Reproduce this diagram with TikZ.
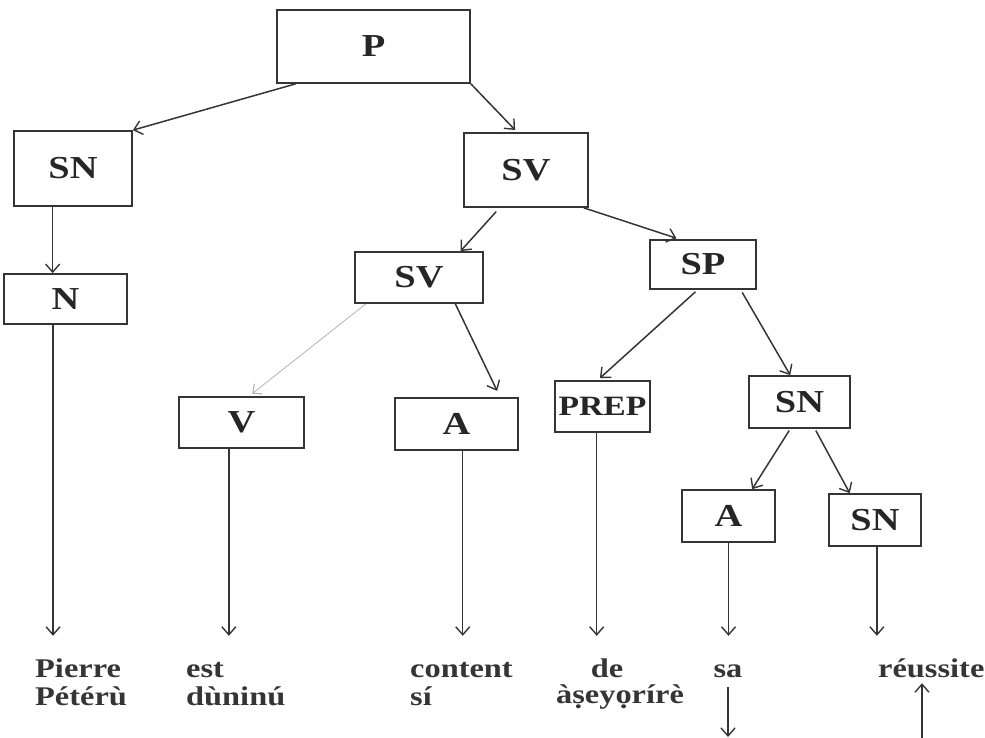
\documentclass[tikz,border=0pt]{standalone}
\usepackage{fontspec}
\setmainfont{Liberation Serif}[FakeStretch=1.2]
\usetikzlibrary{arrows.meta,calc}
\definecolor{ink}{HTML}{353535}
\definecolor{labelink}{HTML}{262626}
\begin{document}
\begin{tikzpicture}[x=1pt,y=-1pt,
  tbox/.style={draw=ink,line width=1.7pt,inner sep=0pt,text=labelink,
    font=\bfseries\fontsize{32}{32}\selectfont},
  link/.style={draw=ink,line width=1.5pt,
    -{Straight Barb[length=8pt,width=14pt,line width=1.4pt]}},
  faint/.style={draw=black!30,line width=0.8pt,
    -{Straight Barb[length=7pt,width=13pt,line width=1.1pt]}},
  word/.style={inner sep=0pt,text=ink,text height=18pt,text depth=6pt,
    font=\bfseries\fontsize{27}{28}\selectfont}]
\useasboundingbox (0,0) rectangle (985,738);

% boxes
\node[tbox,minimum width=193pt,minimum height=73pt] (P)   at (373.5,46.5) {P};
\node[tbox,minimum width=118pt,minimum height=75pt] (SNa) at (73,168.5)   {SN};
\node[tbox,minimum width=123pt,minimum height=50pt] (N)   at (65.5,299)   {N};
\node[tbox,minimum width=124pt,minimum height=74pt] (SVa) at (526,170)    {SV};
\node[tbox,minimum width=128pt,minimum height=51pt] (SVb) at (419,277.5)  {SV};
\node[tbox,minimum width=106pt,minimum height=49pt] (SP)  at (703,264.5)  {SP};
\node[tbox,minimum width=101pt,minimum height=52pt] (SNb) at (799.5,402)  {SN};
\node[tbox,minimum width=125pt,minimum height=51pt] (V)   at (241.5,422.5){V};
\node[tbox,minimum width=123pt,minimum height=52pt] (A1)  at (456.5,424)  {A};
\node[tbox,minimum width=95pt,minimum height=51pt,font=\bfseries\fontsize{28}{28}\selectfont] (PREP) at (602.5,406.5) {PREP};
\node[tbox,minimum width=93pt,minimum height=52pt]  (A2)  at (728.5,516)  {A};
\node[tbox,minimum width=92pt,minimum height=52pt]  (SNc) at (875,520)    {SN};

% words
\node[word,anchor=base west] (w1a) at (35,677)  {Pierre};
\node[word,anchor=base west] (w1b) at (35,705)  {Pétérù};
\node[word,anchor=base west] (w2a) at (186,677) {est};
\node[word,anchor=base west] (w2b) at (186,705) {dùninú};
\node[word,anchor=base west] (w3a) at (410,677) {content};
\node[word,anchor=base west] (w3b) at (410,705) {sí};
\node[word,anchor=base]      (w4a) at (607,677) {de};
\node[word,anchor=base]      (w4b) at (620,703) {àṣeyọrírè};
\node[word,anchor=base]      (w5)  at (728,677) {sa};
\node[word,anchor=base west] (w6)  at (878,677) {réussite};

% tree connectors
\draw[link] ($(P.south west)!0.1!(P.south east)$) -- (SNa.north east);
\draw[link,shorten >=3pt] (P.south east) -- ($(SVa.north west)!0.43!(SVa.north east)$);
\draw[link] ($(SNa.south west)!0.33!(SNa.south east)$) coordinate (c1) -- (c1 |- N.north);
\draw[link,shorten <=5pt] ($(SVa.south west)!0.29!(SVa.south east)$) -- ($(SVb.north west)!0.82!(SVb.north east)$);
\draw[link,shorten >=3pt] ($(SVa.south west)!0.96!(SVa.south east)$) -- ($(SP.north west)!0.28!(SP.north east)$);
\draw[faint,shorten >=4pt] ($(SVb.south west)!0.09!(SVb.south east)$) -- ($(V.north west)!0.56!(V.north east)$);
\draw[link,shorten >=7pt] ($(SVb.south west)!0.78!(SVb.south east)$) -- ($(A1.north west)!0.85!(A1.north east)$);
\draw[link,shorten <=3pt,shorten >=3pt] ($(SP.south west)!0.45!(SP.south east)$) -- ($(PREP.north west)!0.45!(PREP.north east)$);
\draw[link,shorten <=3pt] ($(SP.south west)!0.85!(SP.south east)$) -- ($(SNb.north west)!0.41!(SNb.north east)$);
\draw[link,shorten <=2pt] ($(SNb.south west)!0.41!(SNb.south east)$) -- ($(A2.north west)!0.75!(A2.north east)$);
\draw[link,shorten <=2pt] ($(SNb.south west)!0.65!(SNb.south east)$) -- ($(SNc.north west)!0.23!(SNc.north east)$);

% down to the words
\draw[link,shorten >=23pt] ($(N.south west)!0.4!(N.south east)$) coordinate (d1) -- (d1 |- w1a.north);
\draw[link,shorten >=23pt] ($(V.south west)!0.4!(V.south east)$) coordinate (d2) -- (d2 |- w2a.north);
\draw[link,shorten >=23pt] ($(A1.south west)!0.55!(A1.south east)$) coordinate (d3) -- (d3 |- w3a.north);
\draw[link,shorten >=23pt] ($(PREP.south west)!0.44!(PREP.south east)$) coordinate (d4) -- (d4 |- w4a.north);
\draw[link,shorten >=23pt] ($(A2.south west)!0.5!(A2.south east)$) coordinate (d5) -- (d5 |- w5.north);
\draw[link,shorten >=23pt] ($(SNc.south west)!0.52!(SNc.south east)$) coordinate (d6) -- (d6 |- w6.north);

% arrows leaving the bottom edge
\coordinate (saDown) at (727,737);
\coordinate (reBot) at (922,740);
\draw[link,shorten <=4pt] (w5.south) -- (w5.south |- saDown);
\draw[link] (reBot) -- (reBot |- w6.south);
\end{tikzpicture}
\end{document}
